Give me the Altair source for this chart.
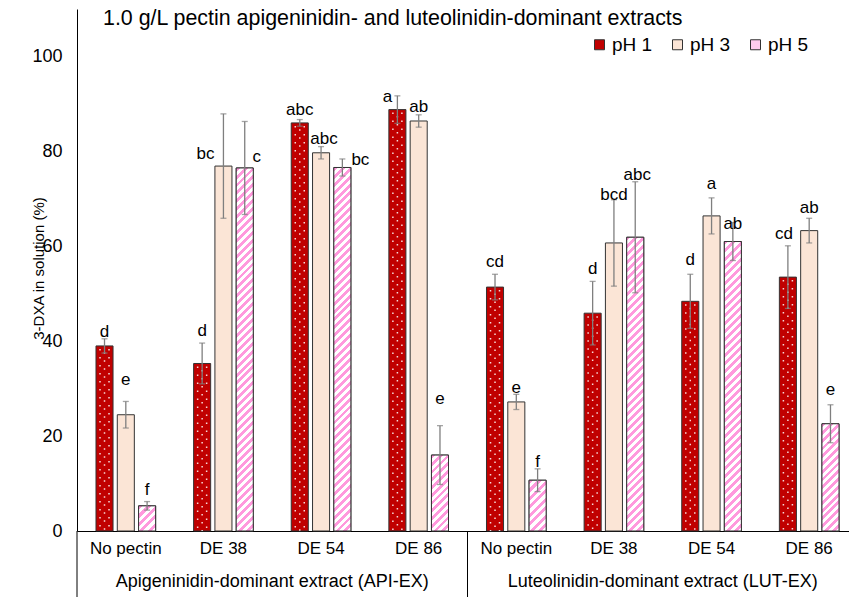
import altair as alt
import pandas as pd

# ---------------- data ----------------
TITLE = "1.0 g/L pectin apigeninidin- and luteolinidin-dominant extracts"
Y_TITLE = "3-DXA in solution (%)"
GROUP_KEYS = ["API", "LUT"]
GROUP_NAMES = ["Apigeninidin-dominant extract (API-EX)",
               "Luteolinidin-dominant extract (LUT-EX)"]
TREATMENTS = ["No pectin", "DE 38", "DE 54", "DE 86"]
PH_LEVELS = ["pH 1", "pH 3", "pH 5"]
Y_TICKS = [0, 20, 40, 60, 80, 100]

# order: API (No pectin, DE 38, DE 54, DE 86), LUT (No pectin, DE 38, DE 54, DE 86)
PH1 = [39.0, 35.3, 86.0, 88.8, 51.4, 45.9, 48.4, 53.5]
PH3 = [24.5, 76.9, 79.7, 86.4, 27.2, 60.7, 66.4, 63.3]
PH5 = [5.3, 76.5, 76.6, 16.0, 10.7, 61.9, 61.0, 22.6]
ERR1 = [1.5, 4.3, 0.7, 2.9, 2.7, 6.7, 5.7, 6.6]
ERR3 = [2.8, 11.0, 1.3, 1.3, 1.6, 9.1, 3.8, 2.6]
ERR5 = [0.9, 9.8, 1.8, 6.2, 2.4, 11.7, 4.0, 4.0]
LET1 = ["d", "d", "abc", "a", "cd", "d", "d", "cd"]
LET3 = ["e", "bc", "abc", "ab", "e", "bcd", "a", "ab"]
LET5 = ["f", "c", "bc", "e", "f", "abc", "ab", "e"]

# ---------------- styles / layout ----------------
# label nudges in px (dx, dy) relative to a spot 12 px above the error bar top
NUDGE1 = [(0, 5), (0, 0), (0, 2), (-10, 13), (0, 0), (0, 0), (0, -2), (-4, 0)]
NUDGE3 = [(0, -9), (-18, 52), (3, 4), (0, 4), (0, 6), (0, 7), (0, -2), (0, 2)]
NUDGE5 = [(0, 0), (12, 48), (18, 13), (0, -15), (0, 5), (2, 5), (0, 13), (0, -3)]

FONT = "Liberation Sans"
RED = "#C00000"
PEACH = "#FBE5D6"
PINK = "#FF99DD"
PINK_SOLID = "#FFCCEE"
EDGE = "#333333"
ERR_C = "#7F7F7F"

W_VIEW, H_VIEW = 772, 522
X_RANGE = 781
Y_MAX = 110
PX = H_VIEW / Y_MAX
PAD_INNER, PAD_OUTER = 0.2, 0.892
BAND = X_RANGE / 8
STEP = BAND / (3 - PAD_INNER + 2 * PAD_OUTER)
BAR_W = STEP * (1 - PAD_INNER)

keys = [f"{g}|{t}" for g in GROUP_KEYS for t in TREATMENTS]
rows = []
for p, vals, errs, lets, nud in zip(PH_LEVELS, [PH1, PH3, PH5], [ERR1, ERR3, ERR5],
                                    [LET1, LET3, LET5], [NUDGE1, NUDGE3, NUDGE5]):
    for i, k in enumerate(keys):
        rows.append(dict(key=k, ph=p, value=vals[i], err=errs[i], letter=lets[i],
                         dx=int(nud[i][0]), dy=int(nud[i][1])))
df = pd.DataFrame(rows)
df["lo"] = df["value"] - df["err"]
df["hi"] = df["value"] + df["err"]
df["ly"] = df["hi"] + (12 - df["dy"]) / PX
df["zero"] = 0.0

# ---------------- encodings ----------------
x_scale = alt.Scale(domain=keys, range=[0, X_RANGE], paddingInner=0, paddingOuter=0)
x_axis = alt.Axis(title=None, ticks=False, labelExpr="split(datum.label, '|')[1]",
                  labelAngle=0, labelFontSize=17, labelPadding=9, labelColor="black",
                  labelFont=FONT, domainColor="black", domainWidth=1, grid=False)


def X(**kw):
    return alt.X("key:N", scale=x_scale, axis=x_axis, **kw)


XO = alt.XOffset("ph:N", scale=alt.Scale(domain=PH_LEVELS, paddingInner=PAD_INNER,
                                         paddingOuter=PAD_OUTER))
y_scale = alt.Scale(domain=[0, Y_MAX], nice=False, zero=True)
y_axis = alt.Axis(title=Y_TITLE, values=Y_TICKS, ticks=False, grid=False,
                  domainColor="black", domainWidth=1, labelFontSize=18, labelPadding=15,
                  labelColor="black", labelFont=FONT, titleFont=FONT, titleFontSize=15,
                  titleFontWeight="normal", titleColor="black", titleX=-39, titleY=259,
                  titleAngle=-90, titleAlign="center", titleBaseline="middle")


def Y(field):
    return alt.Y(f"{field}:Q", scale=y_scale, axis=y_axis)


color = alt.Color("ph:N", scale=alt.Scale(domain=PH_LEVELS, range=[RED, PEACH, PINK_SOLID]),
                  legend=alt.Legend(title=None, orient="none", legendX=513, legendY=26,
                                    direction="horizontal", symbolType="square",
                                    symbolSize=100, symbolStrokeColor=EDGE,
                                    symbolStrokeWidth=1, symbolOpacity=1,
                                    labelFontSize=19, labelFont=FONT, labelColor="black",
                                    columnPadding=15, labelOffset=3, padding=0))

base = alt.Chart(df)

bars = base.mark_bar(stroke=EDGE, strokeWidth=1).encode(
    x=X(), xOffset=XO, y=Y("value"), color=color)

# white dot texture on pH 1 bars
dots = []
for d, off in [(-4.5, 5), (0, 1.6), (4.5, 5)]:
    dots.append(base.transform_filter(alt.datum.ph == PH_LEVELS[0]).mark_rule(
        xOffset=-STEP + d, color="white", opacity=0.85, strokeWidth=1.5,
        strokeDash=[1.5, 6.5], strokeDashOffset=off).encode(
        x=X(), y=Y("value"), y2=alt.Y2("zero")))

# diagonal stripe texture on pH 5 bars
stripes = []
for i, k in enumerate(keys):
    h = PH5[i] * PX
    w = BAR_W
    n = max(1, round((w + h) / 8))
    kk = (w + h) / (w * w + h * h)
    stops = []
    for s in range(n):
        a, b, c = s / n, (s + 0.5) / n, (s + 1) / n
        stops += [alt.GradientStop(offset=a, color=PINK),
                  alt.GradientStop(offset=b, color=PINK),
                  alt.GradientStop(offset=b, color="white"),
                  alt.GradientStop(offset=c, color="white")]
    grad = alt.LinearGradient(gradient="linear", stops=stops, x1=0, y1=0,
                              x2=kk * w, y2=kk * h)
    stripes.append(base.transform_filter(
        (alt.datum.ph == PH_LEVELS[2]) & (alt.datum.key == k)).mark_bar(
        fill=grad, stroke=EDGE, strokeWidth=1).encode(x=X(), xOffset=XO, y=Y("value")))

err_rule = base.mark_rule(color=ERR_C, strokeWidth=1.3).encode(
    x=X(), xOffset=XO, y=Y("lo"), y2=alt.Y2("hi"))
cap_hi = base.mark_tick(color=ERR_C, orient="horizontal", size=6, thickness=1.3).encode(
    x=X(), xOffset=XO, y=Y("hi"))
cap_lo = base.mark_tick(color=ERR_C, orient="horizontal", size=6, thickness=1.3).encode(
    x=X(), xOffset=XO, y=Y("lo"))

labels = []
for dxv in sorted(set(df["dx"].tolist())):
    labels.append(base.transform_filter(alt.datum.dx == int(dxv)).mark_text(
        dx=int(dxv), fontSize=17, font=FONT, color="black", baseline="middle",
        align="center").encode(x=X(), xOffset=XO, y=Y("ly"), text="letter:N"))

gdf = pd.DataFrame({"key": [f"{g}|{TREATMENTS[2]}" for g in GROUP_KEYS],
                    "name": GROUP_NAMES})
glabels = alt.Chart(gdf).mark_text(fontSize=18, font=FONT, color="black",
                                   baseline="middle").encode(
    x=X(bandPosition=0), y=alt.value(H_VIEW + 51), text="name:N")

ddf = pd.DataFrame({"key": [f"{g}|{TREATMENTS[0]}" for g in GROUP_KEYS]})
dividers = alt.Chart(ddf).mark_rule(color="black", strokeWidth=1).encode(
    x=X(bandPosition=0), y=alt.value(H_VIEW), y2=alt.value(H_VIEW + 66))

tdf = pd.DataFrame({"t": [TITLE]})
title = alt.Chart(tdf).mark_text(align="left", baseline="middle", fontSize=21.4, font=FONT,
                                 color="black").encode(
    x=alt.value(26), y=alt.value(10), text="t:N")

chart = alt.layer(bars, *dots, *stripes, err_rule, cap_hi, cap_lo, *labels, glabels,
                  dividers, title).properties(
    width=W_VIEW, height=H_VIEW,
    padding={"left": 77, "top": 9, "right": 0, "bottom": 66},
    autosize=alt.AutoSizeParams(type="none"),
    background="white",
).configure_view(stroke=None)

chart.save("out.html", embed_options={"renderer": "svg", "actions": False})
